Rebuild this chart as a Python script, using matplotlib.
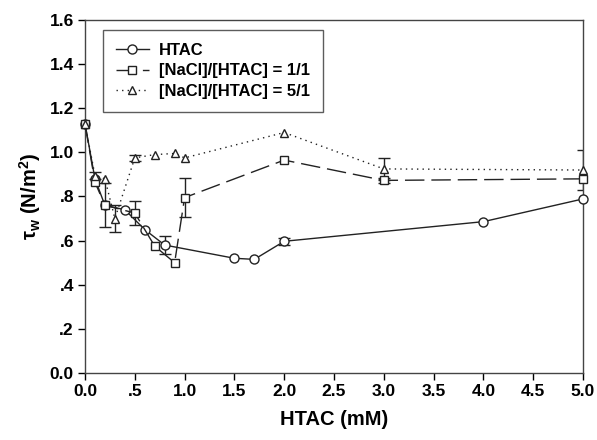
import matplotlib.pyplot as plt
import numpy as np

plt.rcParams['font.family'] = ['Liberation Sans', 'DejaVu Sans']
plt.rcParams['font.weight'] = 'bold'
plt.rcParams['mathtext.fontset'] = 'custom'
plt.rcParams['mathtext.rm'] = 'Liberation Sans:bold'
plt.rcParams['mathtext.bf'] = 'Liberation Sans:bold'
plt.rcParams['mathtext.it'] = 'Liberation Sans:bold'

# HTAC only
x_htac = [0.0, 0.1, 0.2, 0.4, 0.6, 0.8, 1.5, 1.7, 2.0, 4.0, 5.0]
y_htac = [1.13, 0.88, 0.76, 0.74, 0.65, 0.58, 0.52, 0.515, 0.597, 0.686, 0.789]
e_htac = [0, 0, 0, 0, 0, 0.04, 0, 0, 0.015, 0, 0]

# [NaCl]/[HTAC] = 1/1
x_11 = [0.0, 0.1, 0.2, 0.5, 0.7, 0.9, 1.0, 2.0, 3.0, 5.0]
y_11 = [1.13, 0.865, 0.76, 0.725, 0.575, 0.50, 0.795, 0.965, 0.873, 0.88]
e_11 = [0, 0, 0.1, 0.055, 0, 0, 0.087, 0, 0.012, 0]

# [NaCl]/[HTAC] = 5/1
x_51 = [0.0, 0.1, 0.2, 0.3, 0.5, 0.7, 0.9, 1.0, 2.0, 3.0, 5.0]
y_51 = [1.13, 0.895, 0.88, 0.70, 0.975, 0.99, 0.995, 0.975, 1.09, 0.925, 0.92]
e_51 = [0, 0.015, 0, 0.06, 0.015, 0, 0, 0, 0, 0.05, 0.09]

xticks = [0, 0.5, 1, 1.5, 2, 2.5, 3, 3.5, 4, 4.5, 5]
xticklabels = ['0.0', '.5', '1.0', '1.5', '2.0', '2.5', '3.0', '3.5', '4.0', '4.5', '5.0']
yticks = [0, 0.2, 0.4, 0.6, 0.8, 1.0, 1.2, 1.4, 1.6]
yticklabels = ['0.0', '.2', '.4', '.6', '.8', '1.0', '1.2', '1.4', '1.6']

fig = plt.figure(figsize=(5.97, 4.40), dpi=100)
ax = fig.add_axes([85 / 597, 67 / 440, 498 / 597, 353 / 440])

col = '#222222'
series = [
    (x_htac, y_htac, e_htac, 'o', '-', 6.5, 'HTAC'),
    (x_11, y_11, e_11, 's', (0, (14, 5)), 5.5, '[NaCl]/[HTAC] = 1/1'),
    (x_51, y_51, e_51, '^', (0, (1, 3)), 6, '[NaCl]/[HTAC] = 5/1'),
]
for xs, ys, es, mk, ls, ms, lab in series:
    xs, ys, es = np.array(xs), np.array(ys), np.array(es)
    m = es > 0
    ax.errorbar(xs[m], ys[m], yerr=es[m], fmt='none', ecolor=col,
                elinewidth=1, capsize=4, capthick=1, zorder=2)
    ax.plot(xs, ys, linestyle=ls, color=col, linewidth=1, marker=mk,
            markersize=ms, markerfacecolor='white', markeredgecolor=col,
            markeredgewidth=1, label=lab, zorder=3, clip_on=False)

ax.set_xlim(0, 5)
ax.set_ylim(0, 1.6)
ax.set_xticks(xticks)
ax.set_xticklabels(xticklabels)
ax.set_yticks(yticks)
ax.set_yticklabels(yticklabels)
ax.tick_params(direction='out', length=5, width=1, labelsize=12.5, colors='black',
               pad=3)
for s in ax.spines.values():
    s.set_color('#444444')
    s.set_linewidth(1)

ax.set_xlabel('HTAC (mM)', fontsize=14.5, fontweight='bold', labelpad=8)
ax.set_ylabel(r'τ$_{w}$ (N/m$^{2}$)', fontsize=14.5, fontweight='bold', labelpad=5)

leg = ax.legend(loc='upper left', bbox_to_anchor=(0.02, 0.995), fontsize=12,
                frameon=True, fancybox=False, edgecolor='#333333',
                handlelength=2.0, handletextpad=0.6, borderpad=0.75,
                labelspacing=0.35)
leg.get_frame().set_linewidth(1)

fig.savefig('out.png', dpi=100)
